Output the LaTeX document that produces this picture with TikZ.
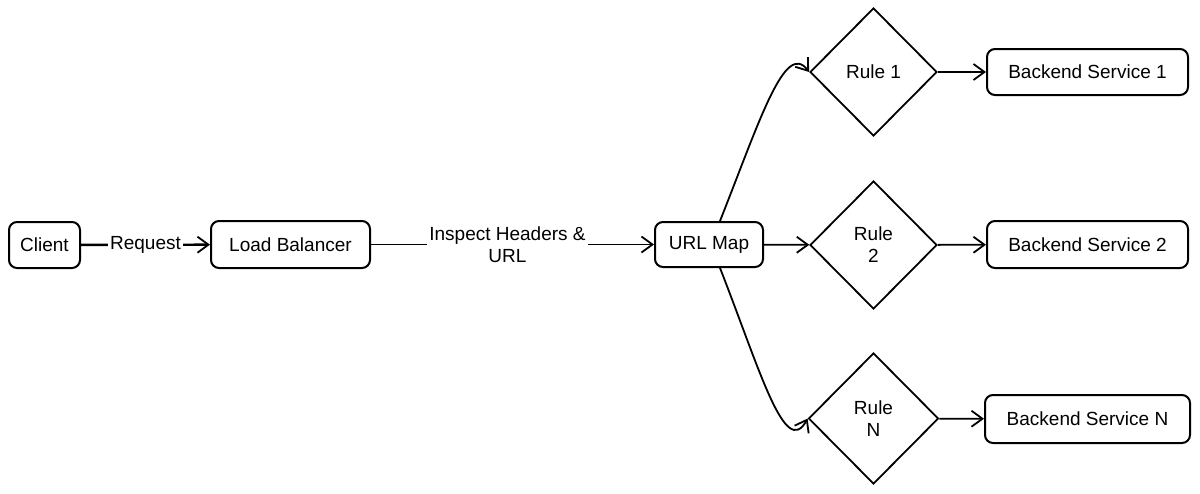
\documentclass[tikz,border=0pt]{standalone}
\usepackage{fontspec}
\setmainfont{Liberation Sans}
\usetikzlibrary{shapes.geometric,arrows.meta}
\begin{document}
\begin{tikzpicture}[x=0.5pt,y=-0.5pt,
  box/.style={draw,line width=1pt,rounded corners=4pt,inner sep=0pt,font=\fontsize{9.5}{11}\selectfont},
  rule/.style={draw,diamond,aspect=1,line width=0.9pt,inner sep=0pt,minimum width=63.5pt,minimum height=64pt,align=center,font=\fontsize{9.5}{11}\selectfont},
  conn/.style={line width=0.9pt,-{Straight Barb[length=5.5pt,width=8pt,line width=0.9pt]}},
  lbl/.style={fill=white,inner sep=1pt,align=center,font=\fontsize{9.5}{11}\selectfont}]
\useasboundingbox (0,0) rectangle (1200,493);
\node[box,minimum width=35.5pt,minimum height=23pt] (client) at (44.5,245) {Client};
\node[box,minimum width=79.5pt,minimum height=23.5pt] (lb) at (290.5,244.5) {Load Balancer};
\node[box,minimum width=54pt,minimum height=22.5pt] (url) at (709,244.5) {URL Map};
\node[rule] (r1) at (873.5,72) {Rule 1};
\node[rule] (r2) at (873.5,245) {Rule\\2};
\node[rule,minimum width=65pt,minimum height=65.5pt] (rn) at (873.5,418.5) {Rule\\N};
\node[box,minimum width=100.5pt,minimum height=23pt] (b1) at (1087.5,72) {Backend Service 1};
\node[box,minimum width=100.5pt,minimum height=23.5pt] (b2) at (1087.5,244.5) {Backend Service 2};
\node[box,minimum width=102.5pt,minimum height=24pt] (bn) at (1087.5,419) {Backend Service N};
\draw[conn,line width=1.2pt] (client) -- node[lbl] {Request} (lb);
\draw[conn] (lb) -- node[lbl,xshift=-2.5pt] {Inspect Headers \&\\URL} (url);
\draw[conn] ([xshift=5.5pt]url.north) .. controls (760,120) and (785,40) .. (r1.west);
\draw[conn] (url) -- (r2);
\draw[conn] ([xshift=5.5pt]url.south) .. controls (760,370) and (785,460) .. (rn.west);
\draw[conn] (r1) -- (b1);
\draw[conn] (r2) -- (b2);
\draw[conn] (rn) -- (bn);
\end{tikzpicture}
\end{document}
